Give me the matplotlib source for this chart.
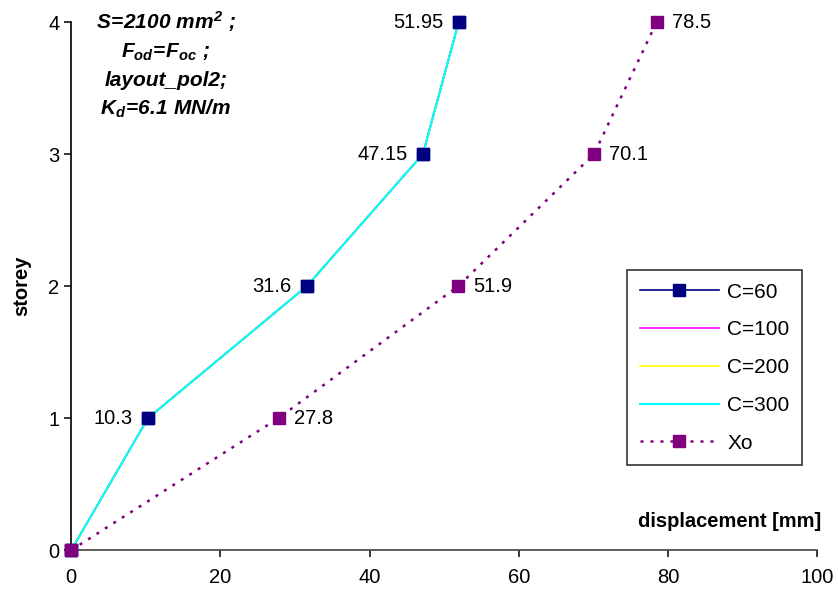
import matplotlib.pyplot as plt
from matplotlib.ticker import MultipleLocator

plt.rcParams['font.family'] = ['Liberation Sans', 'DejaVu Sans']
plt.rcParams['mathtext.fontset'] = 'custom'
plt.rcParams['mathtext.rm'] = 'Liberation Sans:bold:italic'
plt.rcParams['mathtext.it'] = 'Liberation Sans:bold:italic'
plt.rcParams['mathtext.bf'] = 'Liberation Sans:bold:italic'

storey = [0, 1, 2, 3, 4]
c60 = [0, 10.3, 31.6, 47.15, 51.95]
c100 = [0, 10.3, 31.6, 47.15, 51.95]
c200 = [0, 10.3, 31.6, 47.15, 51.95]
c300 = [0, 10.3, 31.6, 47.15, 51.95]
xo = [0, 27.8, 51.9, 70.1, 78.5]
c60_labels = ['', '10.3', '31.6', '47.15', '51.95']
xo_labels = ['', '27.8', '51.9', '70.1', '78.5']

fig = plt.figure(figsize=(8.38, 5.96), dpi=100)
ax = fig.add_axes([0.085, 0.077, 0.89, 0.886])

ax.plot(c60, storey, color='#000080', lw=1.2, marker='s', markersize=8,
        markeredgecolor='#000080', markerfacecolor='#000080', label='C=60', zorder=2, clip_on=False)
ax.plot(c100, storey, color='#ff00ff', lw=1.2, label='C=100', zorder=3)
ax.plot(c200, storey, color='#ffff00', lw=1.2, label='C=200', zorder=4)
ax.plot(c300, storey, color='#00ffff', lw=1.5, label='C=300', zorder=5)
ax.plot(c60, storey, ls='none', marker='s', markersize=8, color='#000080', zorder=6, clip_on=False)
ax.plot(xo, storey, color='#800080', lw=1.8, ls=(0, (1.2, 2.8)), marker='s', markersize=8,
        markeredgecolor='#800080', markerfacecolor='#800080', label='Xo', zorder=7, clip_on=False)

for x, y, s in zip(c60, storey, c60_labels):
    if s:
        ax.annotate(s, (x, y), xytext=(-11, 0), textcoords='offset points',
                    ha='right', va='center', fontsize=14.5)
for x, y, s in zip(xo, storey, xo_labels):
    if s:
        ax.annotate(s, (x, y), xytext=(11, 0), textcoords='offset points',
                    ha='left', va='center', fontsize=14.5)

ax.set_xlim(0, 100)
ax.set_ylim(0, 4)
ax.xaxis.set_major_locator(MultipleLocator(20))
ax.yaxis.set_major_locator(MultipleLocator(1))
ax.spines['top'].set_visible(False)
ax.spines['right'].set_visible(False)
ax.spines['left'].set_linewidth(1.2)
ax.spines['bottom'].set_linewidth(1.2)
ax.spines['bottom'].set_color('#404040')
ax.tick_params(axis='both', direction='out', length=5, width=1.1, labelsize=14.5)
ax.tick_params(axis='x', pad=8)
for lbl in ax.get_xticklabels():
    lbl.set_fontstretch('condensed')

ax.set_ylabel('storey', fontsize=14.5, fontweight='bold', labelpad=12)
ax.text(1.005, 0.055, 'displacement [mm]', transform=ax.transAxes, ha='right', va='center',
        fontsize=14.5, fontweight='bold')

note = ('$S\\!=\\!2100\\ mm^{2}\\ ;$\n$F_{od}\\!=\\!F_{oc}\\ ;$\n'
        'layout_pol2;\n$K_{d}\\!=\\!6.1\\ MN/m$')
ax.text(0.127, 1.025, note, transform=ax.transAxes, ha='center', va='top',
        fontsize=15, fontweight='bold', style='italic', linespacing=1.5)

leg = ax.legend(loc='upper right', bbox_to_anchor=(0.98, 0.53), borderaxespad=0, fontsize=15,
                frameon=True, fancybox=False, edgecolor='black', borderpad=0.6,
                labelspacing=0.9, handlelength=3.8, handletextpad=0.4)
leg.get_frame().set_linewidth(1.2)

plt.savefig('out.png', dpi=100)
